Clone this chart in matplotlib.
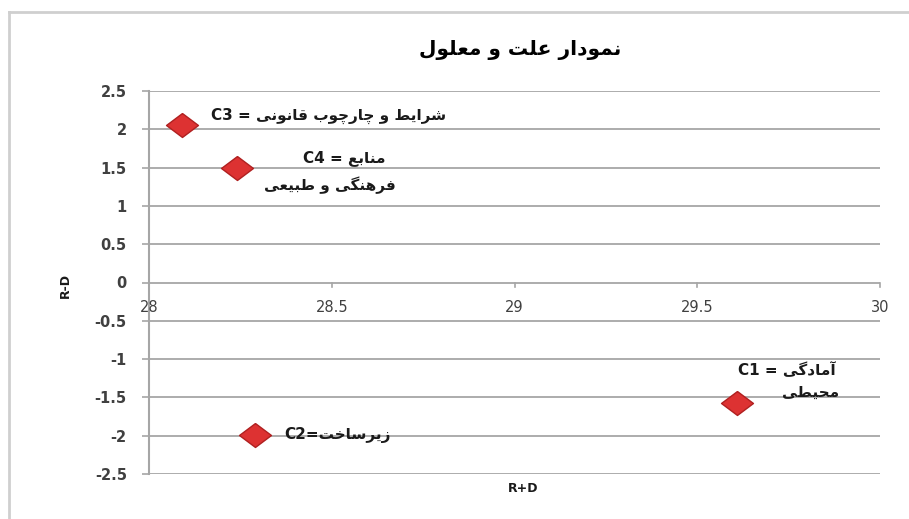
import matplotlib
matplotlib.use("Agg")
import matplotlib.pyplot as plt
from matplotlib.lines import Line2D

# ---------------- data ----------------
codes = ["C1", "C2", "C3", "C4"]
names_line1 = ["آمادگی", "زیرساخت", "شرایط و چارچوب قانونی", "منابع"]
names_line2 = ["محیطی", "", "", "فرهنگی و طبیعی"]
r_plus_d = [29.61, 28.29, 28.09, 28.24]
r_minus_d = [-1.57, -1.99, 2.05, 1.50]
title_text = "نمودار علت و معلول"
xlabel_text = "R+D"
ylabel_text = "R-D"
x_ticks = [28, 28.5, 29, 29.5, 30]
y_ticks = [-2.5, -2, -1.5, -1, -0.5, 0, 0.5, 1, 1.5, 2, 2.5]

# ------------- minimal Persian shaping (presentation forms) -------------
DUAL = {
    "ب": (0xFE8F, 0xFE90, 0xFE91, 0xFE92), "پ": (0xFB56, 0xFB57, 0xFB58, 0xFB59),
    "ت": (0xFE95, 0xFE96, 0xFE97, 0xFE98), "ث": (0xFE99, 0xFE9A, 0xFE9B, 0xFE9C),
    "ج": (0xFE9D, 0xFE9E, 0xFE9F, 0xFEA0), "چ": (0xFB7A, 0xFB7B, 0xFB7C, 0xFB7D),
    "ح": (0xFEA1, 0xFEA2, 0xFEA3, 0xFEA4), "خ": (0xFEA5, 0xFEA6, 0xFEA7, 0xFEA8),
    "س": (0xFEB1, 0xFEB2, 0xFEB3, 0xFEB4), "ش": (0xFEB5, 0xFEB6, 0xFEB7, 0xFEB8),
    "ص": (0xFEB9, 0xFEBA, 0xFEBB, 0xFEBC), "ض": (0xFEBD, 0xFEBE, 0xFEBF, 0xFEC0),
    "ط": (0xFEC1, 0xFEC2, 0xFEC3, 0xFEC4), "ظ": (0xFEC5, 0xFEC6, 0xFEC7, 0xFEC8),
    "ع": (0xFEC9, 0xFECA, 0xFECB, 0xFECC), "غ": (0xFECD, 0xFECE, 0xFECF, 0xFED0),
    "ف": (0xFED1, 0xFED2, 0xFED3, 0xFED4), "ق": (0xFED5, 0xFED6, 0xFED7, 0xFED8),
    "ک": (0xFB8E, 0xFB8F, 0xFB90, 0xFB91), "گ": (0xFB92, 0xFB93, 0xFB94, 0xFB95),
    "ل": (0xFEDD, 0xFEDE, 0xFEDF, 0xFEE0), "م": (0xFEE1, 0xFEE2, 0xFEE3, 0xFEE4),
    "ن": (0xFEE5, 0xFEE6, 0xFEE7, 0xFEE8), "ه": (0xFEE9, 0xFEEA, 0xFEEB, 0xFEEC),
    "ی": (0xFBFC, 0xFBFD, 0xFBFE, 0xFBFF),
}
RIGHT = {
    "ا": (0xFE8D, 0xFE8E), "آ": (0xFE81, 0xFE82), "د": (0xFEA9, 0xFEAA),
    "ذ": (0xFEAB, 0xFEAC), "ر": (0xFEAD, 0xFEAE), "ز": (0xFEAF, 0xFEB0),
    "ژ": (0xFB8A, 0xFB8B), "و": (0xFEED, 0xFEEE),
}


def shape(text):
    out = []
    n = len(text)
    for i, ch in enumerate(text):
        prev = text[i - 1] if i > 0 else ""
        nxt = text[i + 1] if i < n - 1 else ""
        joins_prev = prev in DUAL and (ch in DUAL or ch in RIGHT)
        if ch in DUAL:
            joins_next = nxt in DUAL or nxt in RIGHT
            if joins_prev and joins_next:
                out.append(chr(DUAL[ch][3]))
            elif joins_prev:
                out.append(chr(DUAL[ch][1]))
            elif joins_next:
                out.append(chr(DUAL[ch][2]))
            else:
                out.append(chr(DUAL[ch][0]))
        elif ch in RIGHT:
            out.append(chr(RIGHT[ch][1] if joins_prev else RIGHT[ch][0]))
        else:
            out.append(ch)
    return "".join(reversed(out))


# ---------------- figure ----------------
FONT = ["DejaVu Sans"]
plt.rcParams["font.family"] = FONT

fig = plt.figure(figsize=(9.09, 5.19), dpi=100)
fig.patch.set_facecolor("white")

# outer chart frame (left and top edges visible)
fig.add_artist(Line2D([9 / 909, 9 / 909], [0, 1 - 12 / 519], transform=fig.transFigure,
                      color="#cfcfcf", lw=2))
fig.add_artist(Line2D([9 / 909, 1], [1 - 12 / 519, 1 - 12 / 519], transform=fig.transFigure,
                      color="#cfcfcf", lw=2))

ax = fig.add_axes([149 / 909, 1 - 474 / 519, (880 - 149) / 909, (474 - 91) / 519])
ax.set_xlim(28, 30)
ax.set_ylim(-2.5, 2.5)

for yv in y_ticks:
    ax.axhline(yv, color="#a6a6a6", lw=1.3, zorder=1)

for s in ["top", "right", "bottom"]:
    ax.spines[s].set_visible(False)
ax.spines["left"].set_color("#a6a6a6")
ax.spines["left"].set_linewidth(1.5)

ax.set_yticks(y_ticks)
ax.set_yticklabels([f"{v:g}" for v in y_ticks])
ax.tick_params(axis="y", direction="out", length=5, width=1.2, color="#a6a6a6",
               labelsize=10.5, labelcolor="#404040", pad=11)
for lab in ax.get_yticklabels():
    lab.set_fontweight("bold")

ax.set_xticks(x_ticks)
ax.set_xticklabels([f"{v:g}" for v in x_ticks])
ax.tick_params(axis="x", length=0, labelbottom=False)
for xv in x_ticks:
    ax.plot([xv, xv], [0, -0.06], color="#a6a6a6", lw=1.2, zorder=2, clip_on=False)
    ax.text(xv, -0.32, f"{xv:g}", ha="center", va="center", fontsize=10.5,
            color="#404040", zorder=3)

# markers
diamond = [(0, 0.75), (1, 0), (0, -0.75), (-1, 0), (0, 0.75)]
ax.plot(r_plus_d, r_minus_d, linestyle="none", marker=diamond, markersize=23,
        markerfacecolor="#dd3232", markeredgecolor="#b02020", markeredgewidth=1.0,
        zorder=5, clip_on=False)

# labels
lbl_kw = dict(fontsize=11, color="#1a1a1a", zorder=6, fontweight="bold")
# C3
ax.text(28.17, 2.17, codes[2] + " = " + shape(names_line1[2]),
        ha="left", va="center", **lbl_kw)
# C4
ax.text(28.533, 1.63, codes[3] + " = " + shape(names_line1[3]),
        ha="center", va="center", **lbl_kw)
ax.text(28.495, 1.27, shape(names_line2[3]), ha="center", va="center", **lbl_kw)
# C2
ax.text(28.37, -1.99, codes[1] + "=" + shape(names_line1[1]),
        ha="left", va="center", **lbl_kw)
# C1
ax.text(29.745, -1.15, codes[0] + " = " + shape(names_line1[0]),
        ha="center", va="center", **lbl_kw)
ax.text(29.81, -1.43, shape(names_line2[0]), ha="center", va="center", **lbl_kw)

fig.text(520 / 909, 1 - 50 / 519, shape(title_text), ha="center", va="center",
         fontsize=14.5, fontweight="bold", color="black")
fig.text(523 / 909, 1 - 489 / 519, xlabel_text, ha="center", va="center",
         fontsize=9, fontweight="bold", color="#1a1a1a")
fig.text(65 / 909, 1 - 286 / 519, ylabel_text, ha="center", va="center", rotation=90,
         fontsize=9, fontweight="bold", color="#1a1a1a")

fig.savefig("out.png", dpi=100, facecolor="white")
